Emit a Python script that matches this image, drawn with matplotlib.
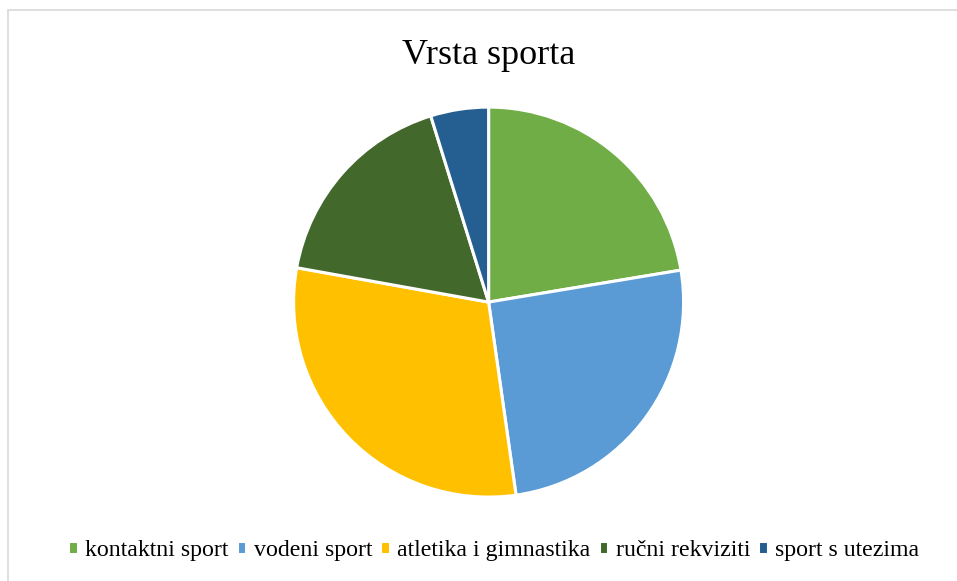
import matplotlib.pyplot as plt
from matplotlib.patches import Rectangle

plt.rcParams['font.family'] = ['Liberation Serif', 'DejaVu Serif']

title = 'Vrsta sporta'
categories = ['kontaktni sport', 'vodeni sport', 'atletika i gimnastika',
              'ručni rekviziti', 'sport s utezima']
values = [22.4, 25.4, 30.1, 17.4, 4.8]
colors = ['#70ad47', '#5b9bd5', '#ffc000', '#43682b', '#255e91']

fig = plt.figure(figsize=(9.57, 5.81), dpi=100)
fig.patches.append(Rectangle((8 / 957, -0.05), 1.1, 1 - 10 / 581 + 0.05,
                             transform=fig.transFigure, fill=False,
                             edgecolor='#d9d9d9', linewidth=1.2))

ax = fig.add_axes([0.3068, 0.1444, 0.4075, 0.6713])
wedges, _ = ax.pie(values, colors=colors, startangle=90, counterclock=False,
                   radius=1, wedgeprops=dict(edgecolor='white', linewidth=2.2))
ax.set_xlim(-1.0, 1.0)
ax.set_ylim(-1.0, 1.0)
ax.set_aspect('equal')
ax.axis('off')

fig.text(0.511, 0.905, title, ha='center', va='center', fontsize=26)

fig.legend(wedges, categories, loc='center', bbox_to_anchor=(0.516, 0.052),
           ncol=5, frameon=False, fontsize=17.2, handlelength=0.4,
           handleheight=0.45, handletextpad=0.3, columnspacing=0.35)

fig.savefig('out.png', dpi=100)
